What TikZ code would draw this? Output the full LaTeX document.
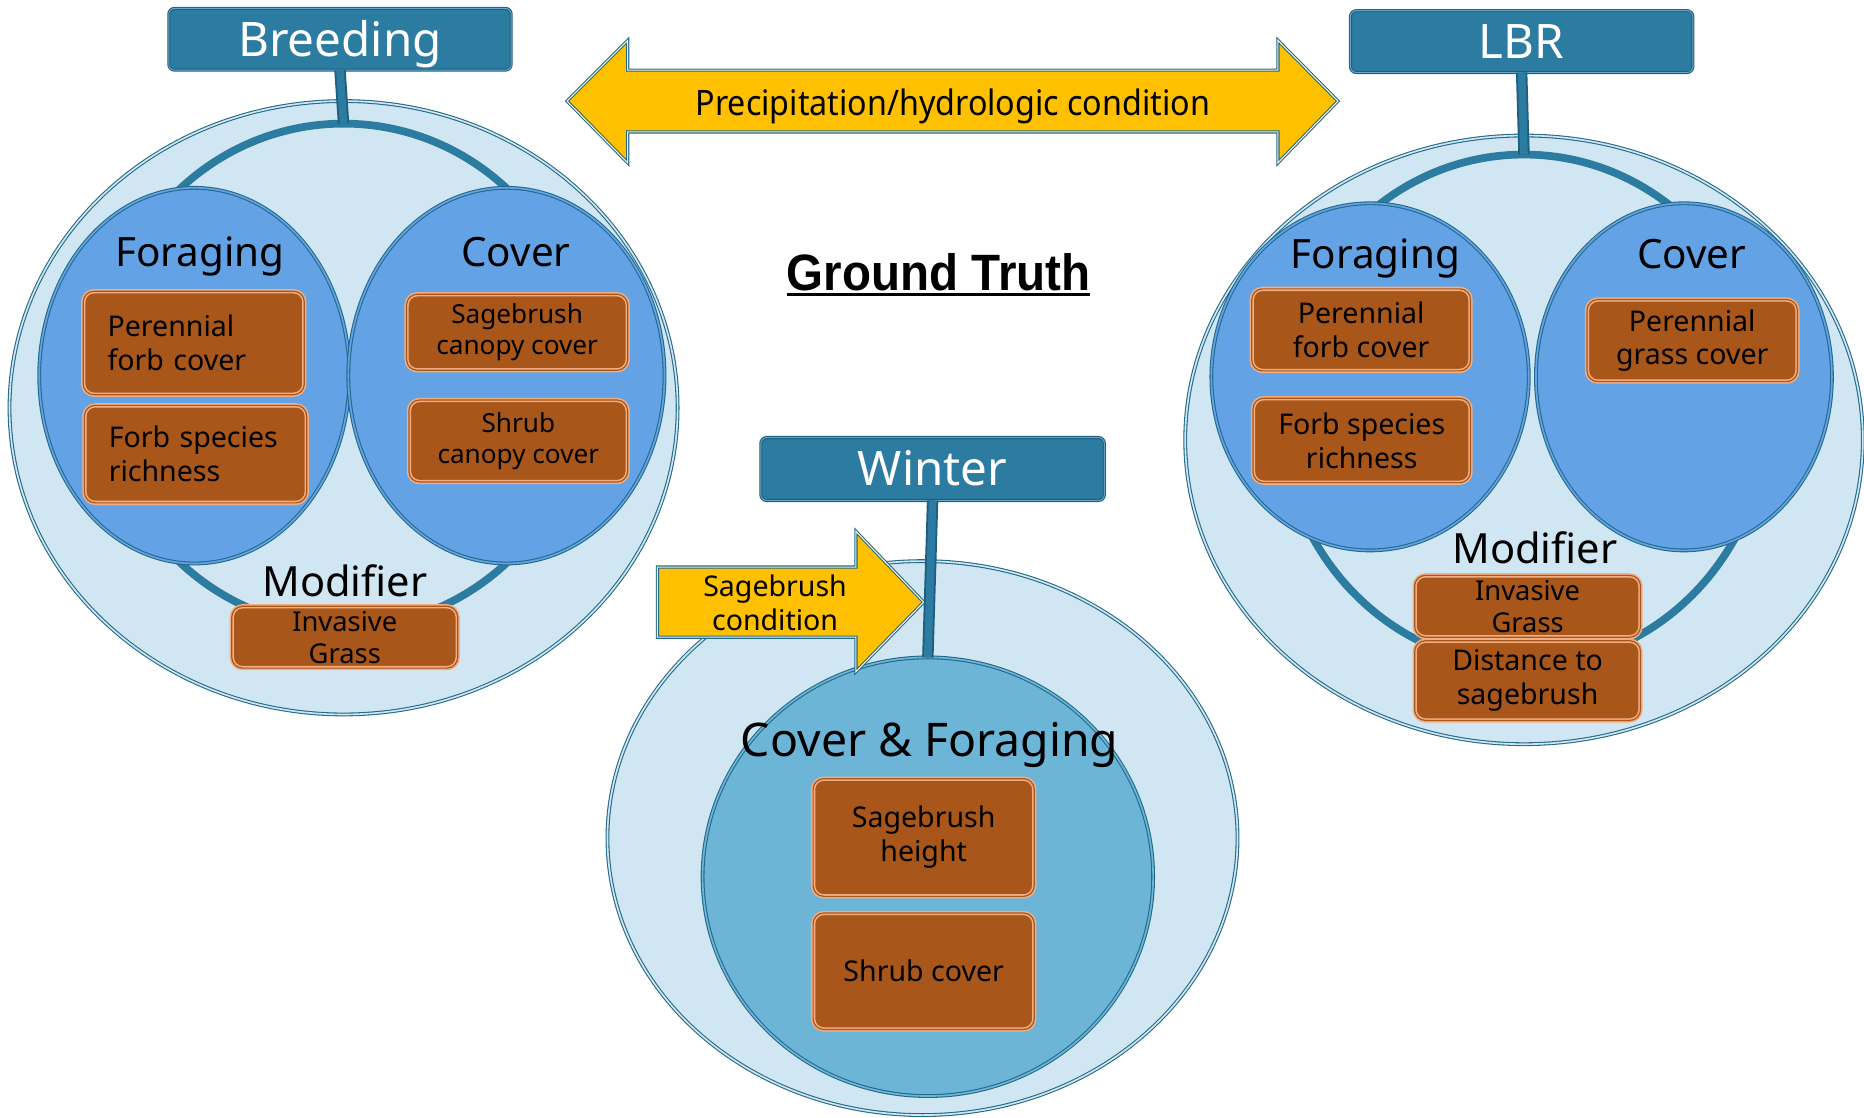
\documentclass[tikz,border=0pt]{standalone}
\usepackage{fontspec}
\setmainfont{Noto Sans}
\newfontfamily\gtfont{Liberation Sans}
\usetikzlibrary{shapes.geometric}
\definecolor{tealF}{HTML}{2C7BA0}
\definecolor{tealD}{HTML}{1E5F7F}
\definecolor{tealL}{HTML}{6AA6C6}
\definecolor{lightB}{HTML}{D0E6F2}
\definecolor{midB}{HTML}{63A3E5}
\definecolor{winB}{HTML}{6CB5D7}
\definecolor{edgeC}{HTML}{24698A}
\definecolor{ringC}{HTML}{2C7BA0}
\definecolor{brownF}{HTML}{A8561A}
\definecolor{orangeL}{HTML}{F2AE80}
\definecolor{yellowF}{HTML}{FFC000}
\definecolor{yellowL}{HTML}{FFF3C4}
\begin{document}
\begin{tikzpicture}[x=1pt,y=-1pt,
  every node/.style={inner sep=0pt, outer sep=0pt},
  titlebox/.style={rectangle, rounded corners=5pt, fill=tealF, draw=tealD, double=tealL, double distance=0.8pt, line width=0.9pt, text=white, font=\fontsize{40}{44}\selectfont, text height=28.6pt, text depth=0pt},
  outerell/.style={ellipse, fill=lightB, draw=edgeC, double=lightB, double distance=1.4pt, line width=0.9pt},
  innerell/.style={ellipse, fill=midB, draw=edgeC, double=midB, double distance=1.4pt, line width=0.9pt},
  winell/.style={ellipse, fill=winB, draw=edgeC, double=winB, double distance=1.4pt, line width=0.9pt},
  ringst/.style={ellipse, draw=ringC, line width=6.5pt},
  stemst/.style={draw=tealD, line width=1.6pt, double=tealF, double distance=6.4pt},
  bbox/.style={rectangle, rounded corners=9pt, fill=brownF, draw=orangeL, double=brownF, double distance=1pt, line width=1.3pt, align=center, font=\fontsize{24}{28.5}\selectfont},
  lbl/.style={anchor=base, font=\fontsize{34}{38}\selectfont},
  yarrow/.style={fill=yellowF, draw=edgeC, double=yellowL, double distance=0.9pt, line width=0.9pt, line join=miter},
]
\useasboundingbox (0,0) rectangle (1568,940);
\clip (0,0) rectangle (1568,940);

% ---------------- Breeding ----------------
\node[outerell, minimum width=562pt, minimum height=516pt] (bOut) at (289,343) {};
\node[ringst, minimum width=410pt, minimum height=424pt] (bRing) at (289,316) {};
\node[innerell, minimum width=261pt, minimum height=316pt] (bFor) at (163.5,316) {};
\node[innerell, minimum width=266pt, minimum height=316pt] (bCov) at (426,316) {};
\node[titlebox, minimum width=288pt, minimum height=52pt] (bT) at (286,33) {Breeding};
\draw[stemst] (bT.south) -- (bRing.north);
\node[lbl] (bForL) at (168,224) {Foraging};
\node[lbl] (bCovL) at (434,224) {Cover};
\node[lbl, font=\fontsize{35}{38}\selectfont] (bModL) at (290,502) {Modifier};
\node[bbox, align=left, text width=145pt, inner xsep=20.5pt, minimum height=87pt] (bPF) at (163,288.5) {Perennial\\forb cover};
\node[bbox, align=left, text width=146pt, inner xsep=20.5pt, minimum height=82pt] (bFS) at (164.5,382) {Forb species\\richness};
\node[bbox, minimum width=186pt, minimum height=64pt, font=\fontsize{22}{26}\selectfont] (bSC) at (435,279.5) {Sagebrush\\canopy cover};
\node[bbox, minimum width=184pt, minimum height=69pt, font=\fontsize{22}{26}\selectfont] (bSh) at (436,371) {Shrub\\canopy cover};
\node[bbox, minimum width=190pt, minimum height=52pt, font=\fontsize{23}{27}\selectfont] (bIG) at (290,536) {Invasive\\Grass};

% ---------------- LBR ----------------
\node[outerell, minimum width=570pt, minimum height=512pt] (lOut) at (1282,370) {};
\node[ringst, minimum width=410pt, minimum height=430pt] (lRing) at (1282,345) {};
\node[innerell, minimum width=267pt, minimum height=292pt] (lFor) at (1152.5,317) {};
\node[innerell, minimum width=249pt, minimum height=292pt] (lCov) at (1416.5,317) {};
\node[titlebox, minimum width=288pt, minimum height=52pt] (lT) at (1280,35) {LBR};
\draw[stemst] (lT.south) -- (lRing.north);
\node[lbl] (lForL) at (1157,226) {Foraging};
\node[lbl] (lCovL) at (1423,226) {Cover};
\node[lbl, font=\fontsize{35}{38}\selectfont] (lModL) at (1291,474) {Modifier};
\node[bbox, minimum width=184pt, minimum height=69pt] (lPF) at (1145,277.5) {Perennial\\forb cover};
\node[bbox, minimum width=183pt, minimum height=71pt] (lFS) at (1145.5,370.5) {Forb species\\richness};
\node[bbox, minimum width=177pt, minimum height=69pt] (lPG) at (1423.5,286.5) {Perennial\\grass cover};
\node[bbox, minimum width=190pt, minimum height=52pt, font=\fontsize{23}{27}\selectfont] (lIG) at (1285,510) {Invasive\\Grass};
\node[bbox, minimum width=190pt, minimum height=67pt] (lDS) at (1285,572.5) {Distance to\\sagebrush};

% ---------------- Winter ----------------
\node[outerell, minimum width=530pt, minimum height=466pt] (wOut) at (776,705) {};
\node[winell, minimum width=379pt, minimum height=369pt] (wIn) at (780.5,737.5) {};
\node[titlebox, minimum width=289pt, minimum height=53pt] (wT) at (784.5,394.5) {Winter};
\draw[yarrow] (553,477) -- (720,477) -- (720,447) -- (777,506.5) -- (720,565) -- (720,536) -- (553,536) -- cycle;
\node[align=center, font=\fontsize{24}{28}\selectfont] (wArr) at (652,507) {Sagebrush\\condition};
\draw[stemst] (wT.south) -- (wIn.north);
\node[lbl, font=\fontsize{39}{42}\selectfont] (wCF) at (782,636) {Cover \& Foraging};
\node[bbox, minimum width=186pt, minimum height=99pt] (wSH) at (777,704.5) {Sagebrush\\height};
\node[bbox, minimum width=186pt, minimum height=98pt] (wSC) at (777,817) {Shrub cover};

% ---------------- Precipitation arrow ----------------
\draw[yarrow] (477,85) -- (528,34) -- (528,59) -- (1075,59) -- (1075,34) -- (1125.5,85) -- (1075,137) -- (1075,111) -- (528,111) -- (528,137) -- cycle;
\node[anchor=base, font=\fontsize{29.5}{32}\selectfont] (prec) at (801.5,97) {\scalebox{0.92}[1]{Precipitation/hydrologic condition}};

% ---------------- Ground Truth ----------------
\node[anchor=base, font=\gtfont\bfseries\fontsize{43}{46}\selectfont] (gt) at (789.5,244) {\scalebox{0.93}[1]{Ground Truth}};
\draw[line width=2.6pt] ([yshift=-4pt]gt.base west) -- ([yshift=-4pt]gt.base east);
\end{tikzpicture}
\end{document}
